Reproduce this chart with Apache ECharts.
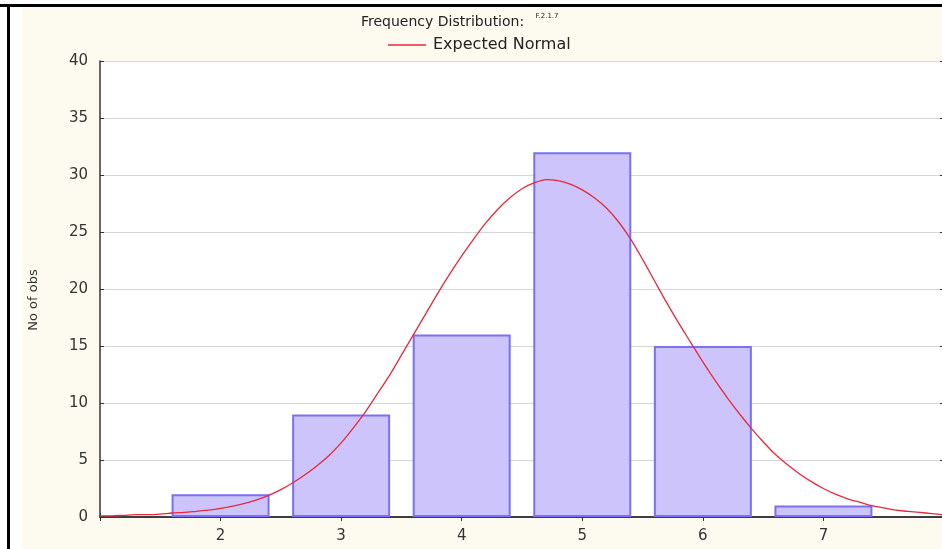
<!DOCTYPE html>
<html>
<head>
<meta charset="utf-8">
<script src="https://cdn.jsdelivr.net/npm/echarts@6/dist/echarts.min.js"></script>
<style>
  html, body { margin: 0; padding: 0; background: #fff; }
  #main { width: 942px; height: 549px; }
</style>
</head>
<body>
<div id="main"></div>
<script>
// histogram bins (centre of class) and observed counts
const binCenters = [2, 3, 4, 5, 6, 7];
const counts = [2, 9, 16, 32, 15, 1];

// expected normal curve, every 0.1
const curveX = [1.0, 1.1, 1.2, 1.3, 1.4, 1.5, 1.6, 1.7, 1.8, 1.9,
  2.0, 2.1, 2.2, 2.3, 2.4, 2.5, 2.6, 2.7, 2.8, 2.9,
  3.0, 3.1, 3.2, 3.3, 3.4, 3.5, 3.6, 3.7, 3.8, 3.9,
  4.0, 4.1, 4.2, 4.3, 4.4, 4.5, 4.6, 4.7, 4.8, 4.9,
  5.0, 5.1, 5.2, 5.3, 5.4, 5.5, 5.6, 5.7, 5.8, 5.9,
  6.0, 6.1, 6.2, 6.3, 6.4, 6.5, 6.6, 6.7, 6.8, 6.9,
  7.0, 7.1, 7.2, 7.3, 7.4, 7.5, 7.6, 7.7, 7.8, 7.9, 8.0];
const curveY = [0.1, 0.1, 0.15, 0.2, 0.2, 0.25, 0.35, 0.4, 0.5, 0.6,
  0.75, 0.95, 1.2, 1.5, 1.9, 2.4, 3.0, 3.7, 4.5, 5.4,
  6.5, 7.8, 9.2, 10.8, 12.4, 14.2, 16.0, 17.8, 19.6, 21.3,
  22.9, 24.4, 25.8, 27.0, 28.0, 28.8, 29.3, 29.6, 29.5, 29.2,
  28.7, 28.0, 27.1, 25.9, 24.4, 22.6, 20.7, 18.8, 17.0, 15.3,
  13.6, 12.0, 10.5, 9.1, 7.8, 6.6, 5.5, 4.6, 3.8, 3.1,
  2.5, 2.0, 1.6, 1.3, 1.0, 0.8, 0.6, 0.5, 0.4, 0.3, 0.2];

const xTicks = [2, 3, 4, 5, 6, 7];
const yTicks = [0, 5, 10, 15, 20, 25, 30, 35, 40];

const xMin = xTicks[0] - 1;
const xMax = xTicks[xTicks.length - 1] + 1;
const yStep = yTicks[1] - yTicks[0];

const font = '"DejaVu Sans", Arial, sans-serif';
const axisColor = '#333';

const chart = echarts.init(document.getElementById('main'));

const option = {
  backgroundColor: '#fff',
  animation: false,
  textStyle: { fontFamily: font },
  graphic: [
    // cream panel
    { type: 'rect', z: -10, silent: true, shape: { x: 22, y: 7, width: 920, height: 542 }, style: { fill: '#fdfbef' } },
    // outer black frame lines
    { type: 'rect', z: -5, silent: true, shape: { x: 0, y: 4, width: 942, height: 3 }, style: { fill: '#000' } },
    { type: 'rect', z: -5, silent: true, shape: { x: 7, y: 4, width: 3, height: 545 }, style: { fill: '#000' } }
  ],
  title: {
    text: '{a|Frequency Distribution:}  {b|F.2.1.7}',
    left: 356,
    top: 8,
    textStyle: {
      fontWeight: 'normal',
      rich: {
        a: { fontSize: 14, color: '#222', fontFamily: font },
        b: { fontSize: 7, color: '#222', fontFamily: font, verticalAlign: 'top', padding: [0, 0, 8, 0] }
      }
    }
  },
  legend: {
    data: ['Expected Normal'],
    icon: 'rect',
    left: 383,
    top: 32,
    itemWidth: 38,
    itemHeight: 1.5,
    itemGap: 8,
    textStyle: { fontSize: 16, color: '#222', fontFamily: font, padding: [0, 0, 0, 2] }
  },
  grid: {
    left: 100,
    width: 844,
    top: 61,
    bottom: 32,
    outerBoundsMode: 'none',
    show: true,
    backgroundColor: '#fff',
    borderWidth: 0
  },
  xAxis: [
    {
      type: 'value',
      min: xMin,
      max: xMax,
      interval: 1,
      axisLine: { lineStyle: { color: axisColor, width: 1.5 } },
      axisTick: { inside: true, length: 4, lineStyle: { color: axisColor } },
      axisLabel: {
        margin: 12,
        fontSize: 15,
        color: '#333',
        formatter: v => (xTicks.includes(v) ? String(v) : '')
      },
      splitLine: { show: false }
    },
    {
      type: 'value',
      position: 'top',
      min: xMin,
      max: xMax,
      interval: 1,
      axisLine: { lineStyle: { color: axisColor, width: 1.5 } },
      axisTick: { inside: true, length: 4, lineStyle: { color: axisColor } },
      axisLabel: { show: false },
      splitLine: { show: false }
    }
  ],
  yAxis: [
    {
      type: 'value',
      min: yTicks[0],
      max: yTicks[yTicks.length - 1],
      interval: yStep,
      name: 'No of obs',
      nameLocation: 'middle',
      nameGap: 60,
      nameTextStyle: { fontSize: 13, color: '#333', fontFamily: font, padding: [0, 22, 0, 0] },
      axisLine: { show: true, lineStyle: { color: axisColor, width: 1.5 } },
      axisTick: { show: true, inside: true, length: 4, lineStyle: { color: axisColor } },
      axisLabel: { margin: 12, fontSize: 15, color: '#333' },
      splitLine: { show: true, lineStyle: { color: '#d6d6d6', width: 1 } }
    },
    {
      type: 'value',
      position: 'right',
      min: yTicks[0],
      max: yTicks[yTicks.length - 1],
      interval: yStep,
      axisLine: { show: true, lineStyle: { color: axisColor, width: 1.5 } },
      axisTick: { show: true, inside: true, length: 4, lineStyle: { color: axisColor } },
      axisLabel: { show: false },
      splitLine: { show: false }
    }
  ],
  series: [
    {
      name: 'No of obs',
      type: 'bar',
      xAxisIndex: 0,
      yAxisIndex: 0,
      barWidth: 98,
      itemStyle: {
        color: '#ccc4fb',
        borderColor: '#7a6ff7',
        borderWidth: 2
      },
      data: binCenters.map((x, i) => [x, counts[i]])
    },
    {
      name: 'Expected Normal',
      type: 'line',
      xAxisIndex: 0,
      yAxisIndex: 0,
      smooth: 0.3,
      symbol: 'none',
      z: 5,
      lineStyle: { color: '#e8283c', width: 1.3 },
      itemStyle: { color: '#e8283c' },
      data: curveX.map((x, i) => [x, curveY[i]])
    }
  ]
};

chart.setOption(option);
</script>
</body>
</html>
